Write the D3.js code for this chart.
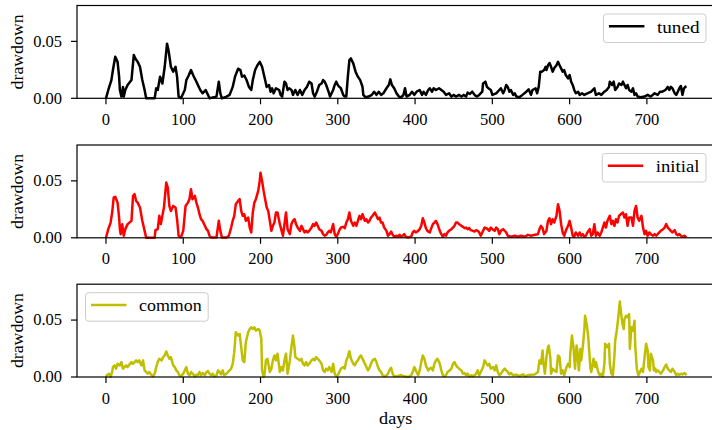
<!DOCTYPE html>
<html>
<head>
<meta charset="utf-8">
<script src="https://cdn.jsdelivr.net/npm/d3@7"></script>
<style>
  body { margin: 0; background: #fff; }
  text { font-family: "Liberation Serif", "DejaVu Serif", serif; fill: #000; }
</style>
</head>
<body>
<script>
// values: [day, drawdown]
var tuned = [[0,0],[3,0.0073],[7,0.016],[9,0.0248],[12,0.0365],[15,0.032],[17,0.019],[18,0.0073],[20,0.0015],[22,0.010],[23,0.0015],[25,0.0073],[28,0.0117],[33,0.016],[36,0.038],[38,0.035],[41,0.032],[44,0.0277],[47,0.016],[50,0.0073],[52,0],[63,0],[65,0.0088],[67,0.0073],[70,0.019],[73,0.013],[76,0.0277],[79,0.048],[81,0.042],[84,0.0277],[87,0.0234],[90,0.0277],[92,0.019],[94,0.0015],[97,0],[102,0.0073],[104,0.016],[107,0.020],[110,0.0248],[113,0.020],[116,0.016],[119,0.0117],[122,0.0073],[125,0.0044],[129,0.0073],[132,0.003],[134,0],[143,0.0015],[146,0.0146],[148,0.0044],[150,0],[156,0.0015],[160,0.003],[164,0.010],[167,0.019],[171,0.026],[174,0.0248],[176,0.019],[179,0.020],[182,0.016],[185,0.010],[188,0.0073],[190,0.016],[193,0.0248],[196,0.029],[199,0.032],[202,0.0277],[205,0.019],[208,0.010],[211,0.0117],[213,0.0058],[215,0.0088],[217,0.0044],[220,0.0088],[224,0.0073],[226,0.003],[228,0.0015],[231,0.0146],[233,0.013],[235,0.0073],[237,0.0088],[240,0.0073],[242,0.003],[245,0.0073],[248,0.003],[251,0.0073],[254,0.003],[257,0.0073],[260,0.010],[263,0.0146],[266,0.013],[268,0.0044],[270,0.0015],[273,0.0058],[276,0.0117],[279,0.013],[281,0.016],[283,0.0146],[285,0.0117],[288,0.0058],[290,0.0015],[294,0.0073],[296,0.0117],[298,0.0146],[300,0.0117],[302,0.010],[304,0.0088],[307,0.003],[309,0.0015],[311,0.0015],[313,0.019],[315,0.0336],[317,0.035],[320,0.0307],[323,0.0234],[326,0.019],[329,0.016],[332,0.010],[333,0.003],[336,0.0009],[340,0.0015],[344,0.003],[347,0.0058],[350,0.003],[353,0.0058],[356,0.003],[359,0.0044],[363,0.0088],[366,0.0117],[368,0.0166],[370,0.0117],[373,0.0088],[376,0.0044],[379,0.0015],[382,0.0009],[385,0.003],[387,0.0088],[389,0.0015],[393,0.003],[396,0.0058],[399,0.003],[402,0.0058],[406,0.0073],[409,0.003],[411,0.0058],[414,0.003],[417,0.0073],[419,0.0088],[422,0.0058],[424,0.0088],[427,0.0073],[431,0.0088],[434,0.0073],[437,0.0058],[440,0.003],[444,0.0044],[447,0.0015],[450,0.003],[453,0.0015],[457,0.003],[460,0.0015],[463,0.003],[466,0.0015],[468,0.005],[471,0.0038],[474,0.0058],[477,0.003],[480,0.0015],[483,0.003],[487,0.0058],[488,0.0131],[491,0.0146],[493,0.010],[495,0.0088],[498,0.0073],[500,0.003],[505,0.0044],[509,0.0073],[511,0.0088],[514,0.0044],[516,0.0073],[518,0.0117],[520,0.010],[522,0.0058],[524,0.0073],[527,0.003],[529,0.0044],[531,0.0015],[535,0.0009],[539,0.003],[544,0.0058],[547,0.0079],[550,0.003],[552,0.0073],[556,0.0088],[558,0.0044],[560,0.010],[562,0.0234],[564,0.0234],[567,0.0248],[569,0.0277],[570,0.0248],[572,0.029],[574,0.031],[576,0.0277],[578,0.0234],[580,0.0263],[583,0.029],[585,0.032],[587,0.029],[589,0.0263],[591,0.0234],[593,0.0248],[595,0.0204],[598,0.0175],[600,0.0204],[602,0.0146],[604,0.0117],[606,0.0073],[608,0.0044],[611,0.0058],[613,0.003],[616,0.0044],[619,0.003],[623,0.0044],[628,0.0058],[632,0.0088],[634,0.003],[638,0.0044],[641,0.003],[645,0.0058],[648,0.0073],[651,0.010],[652,0.0146],[655,0.0117],[657,0.0146],[659,0.0073],[662,0.010],[664,0.013],[667,0.0117],[669,0.0146],[671,0.0117],[673,0.0088],[675,0.0117],[677,0.0073],[680,0.0058],[682,0.0088],[684,0.003],[686,0.0044],[688,0.0015],[692,0.0009],[697,0.0015],[701,0.003],[705,0.0015],[710,0.0044],[714,0.003],[717,0.0058],[720,0.0058],[724,0.0073],[727,0.010],[729,0.0073],[731,0.010],[733,0.0088],[736,0.0044],[738,0.003],[740,0.0058],[742,0.0088],[744,0.0108],[746,0.003],[748,0.0088],[751,0.0108]];

var initial = [[0,0],[3,0.0076],[6,0.0134],[8,0.0222],[10,0.0354],[12,0.036],[15,0.0309],[17,0.0178],[18,0.0076],[19,0.0032],[21,0.012],[23,0.0018],[25,0.0076],[28,0.012],[33,0.0149],[35,0.0368],[37,0.0383],[39,0.0324],[41,0.0309],[44,0.0266],[47,0.0149],[50,0.0061],[52,0],[63,0],[64,0.0067],[67,0.0076],[69,0.0193],[71,0.012],[75,0.0266],[78,0.0485],[80,0.044],[82,0.028],[84,0.0236],[87,0.028],[90,0.0266],[92,0.0163],[94,0.0018],[97,0.0003],[100,0.0061],[103,0.028],[106,0.0309],[108,0.0339],[110,0.0426],[112,0.0339],[115,0.0368],[117,0.0309],[119,0.0266],[121,0.0207],[123,0.0163],[125,0.0149],[128,0.0105],[130,0.0076],[132,0.0061],[134,0.0018],[136,0.0003],[143,0.0003],[146,0.0149],[148,0.0061],[150,0.0003],[156,0.0003],[159,0.0018],[162,0.009],[164,0.0149],[166,0.0193],[168,0.0295],[171,0.0324],[173,0.0339],[175,0.0236],[177,0.0193],[179,0.0207],[181,0.0149],[184,0.0178],[186,0.009],[188,0.0047],[190,0.0222],[192,0.0309],[194,0.0339],[197,0.0412],[199,0.05],[200,0.0572],[202,0.05],[204,0.0412],[206,0.0339],[208,0.0266],[210,0.0236],[212,0.0149],[214,0.0061],[216,0.0105],[218,0.0134],[220,0.0222],[222,0.0222],[225,0.012],[229,0.0018],[231,0.012],[233,0.0222],[235,0.0076],[238,0.0032],[240,0.012],[242,0.0149],[244,0.0163],[246,0.012],[248,0.009],[251,0.0061],[253,0.0105],[255,0.0076],[257,0.0047],[259,0.0061],[261,0.0047],[263,0.0061],[266,0.009],[268,0.012],[270,0.0105],[272,0.0134],[274,0.0105],[276,0.0076],[279,0.0061],[281,0.0032],[283,0.0018],[285,0.0026],[287,0.0047],[289,0.0061],[291,0.0047],[294,0.012],[296,0.0032],[298,0.0009],[300,0.0032],[302,0.0067],[304,0.009],[307,0.0096],[309,0.0085],[311,0.0134],[313,0.0163],[315,0.0222],[317,0.0149],[320,0.0105],[322,0.0134],[324,0.0105],[326,0.0149],[328,0.0193],[330,0.0163],[332,0.0207],[335,0.0149],[337,0.0163],[339,0.0134],[341,0.0149],[343,0.0178],[345,0.0193],[348,0.0222],[350,0.0193],[352,0.0163],[354,0.0178],[356,0.0134],[358,0.0134],[360,0.009],[363,0.0061],[365,0.0018],[367,0.0032],[369,0.0055],[371,0.0026],[373,0.0009],[376,0.0018],[378,0.0009],[380,0.0026],[382,0.0009],[384,0.0018],[386,0.0032],[388,0.0009],[391,0.0003],[395,0.0012],[397,0.0047],[399,0.0061],[401,0.0047],[404,0.0061],[406,0.0076],[408,0.0105],[410,0.0172],[412,0.0134],[414,0.0085],[416,0.0061],[419,0.0047],[421,0.0085],[423,0.012],[425,0.0134],[427,0.0149],[429,0.012],[432,0.0061],[434,0.0032],[436,0.0009],[438,0.0032],[440,0.0018],[442,0.0047],[444,0.0061],[447,0.0076],[449,0.009],[451,0.0105],[453,0.0134],[455,0.0134],[457,0.012],[460,0.0105],[462,0.0096],[464,0.0085],[466,0.009],[468,0.0076],[470,0.0085],[472,0.0067],[475,0.0061],[477,0.0055],[479,0.0067],[481,0.0061],[483,0.0047],[485,0.0018],[488,0.0061],[490,0.009],[492,0.0085],[494,0.0076],[496,0.0061],[498,0.009],[500,0.0076],[503,0.0061],[505,0.009],[507,0.0076],[509,0.0032],[511,0.0061],[514,0.0076],[516,0.0061],[518,0.0047],[520,0.0018],[524,0.0009],[529,0.0018],[533,0.0009],[537,0.0018],[542,0.0009],[546,0.0026],[550,0.0018],[555,0.0026],[559,0.0032],[561,0.0076],[563,0.0105],[565,0.0085],[567,0.0032],[570,0.0061],[572,0.0149],[574,0.0172],[576,0.012],[578,0.0163],[580,0.0134],[583,0.0193],[585,0.0295],[587,0.0237],[589,0.012],[591,0.0047],[593,0.0018],[595,0.0061],[598,0.0105],[600,0.0149],[602,0.009],[604,0.0018],[606,0.0009],[608,0.0047],[611,0.0018],[613,0.0047],[615,0.0018],[617,0.0032],[619,0.0009],[621,0.0018],[623,0.0047],[626,0.0076],[628,0.0018],[630,0.0032],[632,0.012],[634,0.0018],[636,0.0047],[639,0.0018],[641,0.0047],[643,0.009],[645,0.0134],[647,0.009],[649,0.0149],[652,0.0193],[654,0.012],[656,0.0149],[658,0.0105],[660,0.0163],[662,0.0134],[664,0.0193],[667,0.0213],[669,0.0222],[671,0.0178],[673,0.0207],[675,0.0105],[677,0.0178],[680,0.0178],[682,0.0105],[684,0.0237],[686,0.028],[688,0.0178],[690,0.0149],[693,0.0193],[695,0.009],[697,0.0032],[699,0.0061],[701,0.0018],[703,0.0047],[705,0.0032],[708,0.0018],[710,0.0032],[712,0.0018],[714,0.0032],[716,0.0047],[718,0.0061],[721,0.0076],[723,0.009],[725,0.012],[727,0.009],[729,0.0076],[731,0.0061],[733,0.0047],[736,0.0067],[738,0.0032],[740,0.0023],[742,0.0032],[744,0.0018],[746,0.0009],[749,0.0018],[751,0.0003]];

var common = [[0,0],[1,0.0015],[4,0.0029],[6,0],[8,0.0044],[9,0.0087],[11,0.0102],[13,0.0073],[15,0.0116],[18,0.0102],[20,0.0131],[22,0.0073],[24,0.0087],[26,0.0102],[28,0.0087],[31,0.0116],[33,0.0131],[35,0.0116],[37,0.0131],[39,0.0146],[41,0.0131],[43,0.0146],[46,0.0102],[48,0.0146],[50,0.0058],[52,0.0044],[54,0.0029],[56,0.0044],[59,0.0015],[61,0.0006],[63,0.0029],[65,0.0087],[67,0.0131],[69,0.016],[72,0.0146],[74,0.0175],[76,0.0189],[78,0.0224],[80,0.0189],[82,0.016],[84,0.0175],[87,0.0102],[89,0.0087],[91,0.0058],[93,0.0044],[95,0.0015],[97,0.0006],[100,0.0029],[102,0.0058],[104,0.0087],[106,0.0029],[108,0.0015],[110,0.0044],[112,0.0029],[115,0.0006],[117,0.002],[119,0.0015],[121,0.0044],[123,0.0015],[125,0.0035],[128,0.0015],[130,0.0044],[132,0.0052],[134,0.0029],[136,0.0015],[138,0.0029],[140,0.0006],[143,0.0015],[145,0.0058],[147,0.0044],[149,0.0023],[151,0.0058],[153,0.0015],[156,0.0029],[158,0.0044],[160,0.0058],[162,0.0073],[164,0.0116],[166,0.0218],[168,0.0393],[171,0.0364],[173,0.0378],[175,0.0262],[177,0.0146],[179,0.0131],[181,0.0306],[184,0.0393],[186,0.0422],[188,0.0437],[190,0.0422],[192,0.0437],[194,0.0407],[197,0.0422],[199,0.0407],[201,0.0335],[202,0.0058],[204,0],[205,0.0015],[207,0.0146],[209,0.016],[212,0.0044],[214,0.0073],[216,0.0146],[218,0.0189],[220,0.0146],[222,0.0204],[225,0.0044],[227,0.0087],[229,0.0058],[231,0.0146],[233,0.0204],[235,0.0029],[238,0.0146],[240,0.0262],[242,0.0364],[244,0.0262],[245,0.0175],[248,0.016],[251,0.0146],[253,0.016],[255,0.0116],[257,0.0102],[259,0.0131],[261,0.0102],[263,0.0116],[266,0.0146],[268,0.016],[270,0.0146],[272,0.0175],[274,0.016],[276,0.0146],[279,0.0116],[281,0.0058],[283,0.0044],[285,0.0073],[287,0.0058],[289,0.0087],[292,0.0044],[294,0.0116],[296,0.0029],[298,0.0006],[300,0.0015],[302,0.0044],[304,0.0073],[307,0.0087],[309,0.0073],[311,0.0146],[313,0.0175],[315,0.0227],[317,0.016],[320,0.0116],[322,0.0102],[324,0.0131],[326,0.0146],[328,0.0175],[330,0.0189],[333,0.0146],[335,0.0116],[337,0.0087],[339,0.0058],[341,0.0081],[343,0.0116],[345,0.0146],[348,0.016],[350,0.0131],[352,0.0087],[354,0.0058],[356,0.0044],[358,0.0015],[361,0.0006],[363,0.0015],[365,0.0029],[367,0.0064],[369,0.0081],[371,0.0029],[373,0.0006],[378,0.0009],[382,0.0017],[386,0.0006],[391,0],[395,0.0015],[397,0.0044],[399,0.0087],[401,0.0058],[404,0.0015],[406,0.0058],[408,0.0131],[410,0.0189],[412,0.016],[414,0.0102],[417,0.0058],[419,0.0073],[421,0.0081],[423,0.0058],[425,0.0116],[427,0.0146],[429,0.016],[432,0.0116],[434,0.0058],[436,0.0015],[438,0.0006],[440,0.0015],[442,0.0044],[445,0.0058],[447,0.0073],[449,0.0116],[451,0.0131],[453,0.0102],[455,0.0087],[457,0.0073],[460,0.0058],[462,0.0029],[464,0.0035],[466,0.0015],[468,0.0029],[470,0.0006],[473,0.0015],[475,0.0006],[477,0.0015],[479,0.0029],[481,0.0058],[483,0.0015],[485,0.0044],[488,0.0087],[490,0.0146],[492,0.0122],[494,0.0102],[496,0.0116],[498,0.0073],[501,0.0087],[503,0.0058],[505,0.0102],[507,0.0044],[509,0.0015],[511,0.0029],[514,0.0058],[516,0.0073],[518,0.0058],[520,0.0044],[522,0.0023],[524,0.0035],[527,0.0015],[531,0.002],[535,0.0009],[540,0.0023],[542,0.0006],[546,0.0015],[550,0.002],[555,0.0023],[559,0.0044],[561,0.0146],[563,0.0116],[565,0.0233],[566,0.0131],[568,0.0029],[570,0.0175],[572,0.0262],[573,0.0276],[575,0.0175],[576,0.0029],[578,0.0073],[580,0.0058],[583,0.0044],[585,0.0189],[587,0.0175],[589,0.0029],[591,0.0058],[593,0.0015],[596,0.0087],[598,0.0116],[600,0.0087],[601,0.0218],[603,0.0364],[605,0.0262],[607,0.0073],[609,0.0276],[610,0.0233],[612,0.0058],[614,0.0247],[615,0.0146],[617,0.0262],[619,0.0407],[620,0.0538],[622,0.0466],[624,0.0364],[625,0.0262],[627,0.0073],[628,0.0044],[630,0.0116],[631,0.016],[633,0.0087],[634,0.0131],[637,0.0044],[639,0.0015],[641,0.0029],[643,0.0006],[645,0.0116],[646,0.0291],[648,0.0276],[649,0.0262],[651,0.0291],[652,0.0116],[654,0.0029],[656,0.0015],[658,0.0189],[659,0.032],[661,0.0407],[663,0.0524],[665,0.0663],[666,0.0597],[668,0.048],[670,0.0422],[671,0.0509],[673,0.0538],[675,0.0524],[677,0.0553],[678,0.0247],[680,0.0437],[682,0.0407],[684,0.0495],[685,0.0262],[687,0.0073],[689,0.0015],[690,0.0029],[693,0.0073],[695,0.0044],[697,0.0175],[699,0.0291],[701,0.0233],[702,0.0087],[704,0.0058],[705,0.0204],[708,0.0146],[709,0.0058],[711,0.0073],[712,0.0044],[714,0.0058],[716,0.0044],[718,0.0029],[721,0.0058],[723,0.0087],[725,0.011],[727,0.0073],[729,0.0058],[731,0.0044],[733,0.0073],[736,0.0044],[738,0.0015],[740,0.0029],[742,0.002],[744,0.0029],[746,0.0023],[749,0.0035],[751,0.0015]];

var seriesNames = ["tuned", "initial", "common"];
var seriesColors = ["#000000", "#ff0000", "#bfbf00"];
var xTicks = [0, 100, 200, 300, 400, 500, 600, 700];
var yTicks = [0, 0.05];

var width = 712, height = 430;
var left = 77, right = 714.5;
var tops = [5.5, 145, 284.2], axH = 92.8;

var svg = d3.select("body").append("svg")
	.attr("width", width)
	.attr("height", height);

var x = d3.scaleLinear().domain([-37.5, 787.5]).range([left, right]);

var line = d3.line()
	.x(function(d) { return x(d[0]); });

[tuned, initial, common].forEach(function(data, i) {
	var top = tops[i];
	var y = d3.scaleLinear().domain([0, 0.0815]).range([top + axH, top]);
	var g = svg.append("g");

	g.append("path")
		.datum(data)
		.attr("fill", "none")
		.attr("stroke", seriesColors[i])
		.attr("stroke-width", 2.5)
		.attr("stroke-linejoin", "round")
		.attr("d", line.y(function(d) { return y(d[1]); }));

	// frame
	g.append("rect")
		.attr("x", left).attr("y", top)
		.attr("width", right - left).attr("height", axH)
		.attr("fill", "none").attr("stroke", "#000").attr("stroke-width", 1.2);

	// x ticks
	g.selectAll(".xt").data(xTicks).enter().append("line")
		.attr("x1", function(d) { return x(d); }).attr("x2", function(d) { return x(d); })
		.attr("y1", top + axH).attr("y2", top + axH + 6)
		.attr("stroke", "#000").attr("stroke-width", 1.2);
	g.selectAll(".xl").data(xTicks).enter().append("text")
		.attr("x", function(d) { return x(d); })
		.attr("y", top + axH + 26.5)
		.attr("text-anchor", "middle")
		.style("font-size", "16.5px")
		.text(function(d) { return d; });

	// y ticks
	g.selectAll(".yt").data(yTicks).enter().append("line")
		.attr("x1", left - 6).attr("x2", left)
		.attr("y1", function(d) { return y(d); }).attr("y2", function(d) { return y(d); })
		.attr("stroke", "#000").attr("stroke-width", 1.2);
	g.selectAll(".yl").data(yTicks).enter().append("text")
		.attr("x", 62)
		.attr("y", function(d) { return y(d) + 5.3; })
		.attr("text-anchor", "end")
		.style("font-size", "16.5px")
		.text(function(d) { return d3.format(".2f")(d); });

	g.append("text")
		.attr("transform", "translate(23," + (top + axH / 2) + ")rotate(-90)")
		.attr("text-anchor", "middle")
		.attr("textLength", 75).attr("lengthAdjust", "spacingAndGlyphs")
		.style("font-size", "16.5px")
		.text("drawdown");

	// legend
	var textW = [42.6, 43.7, 62.7][i];
	var boxW = 53.5 + textW + 6.5, boxH = 28.5;
	var bx = i < 2 ? right - 8.5 - boxW : left + 8.5;
	var by = top + 8.5;
	var lg = g.append("g");
	lg.append("rect")
		.attr("x", bx).attr("y", by).attr("width", boxW).attr("height", boxH)
		.attr("rx", 3).attr("fill", "#fff").attr("fill-opacity", 0.8)
		.attr("stroke", "#cccccc").attr("stroke-width", 1);
	lg.append("line")
		.attr("x1", bx + 5.5).attr("x2", bx + 41)
		.attr("y1", by + 12.3).attr("y2", by + 12.3)
		.attr("stroke", seriesColors[i]).attr("stroke-width", 2.5);
	lg.append("text")
		.attr("x", bx + 53.5).attr("y", by + 18.7)
		.attr("textLength", textW).attr("lengthAdjust", "spacingAndGlyphs")
		.style("font-size", "16.5px")
		.text(seriesNames[i]);
});

svg.append("text")
	.attr("x", (left + right) / 2)
	.attr("y", 424)
	.attr("text-anchor", "middle")
	.attr("textLength", 33.3).attr("lengthAdjust", "spacingAndGlyphs")
	.style("font-size", "16.5px")
	.text("days");
</script>
</body>
</html>
